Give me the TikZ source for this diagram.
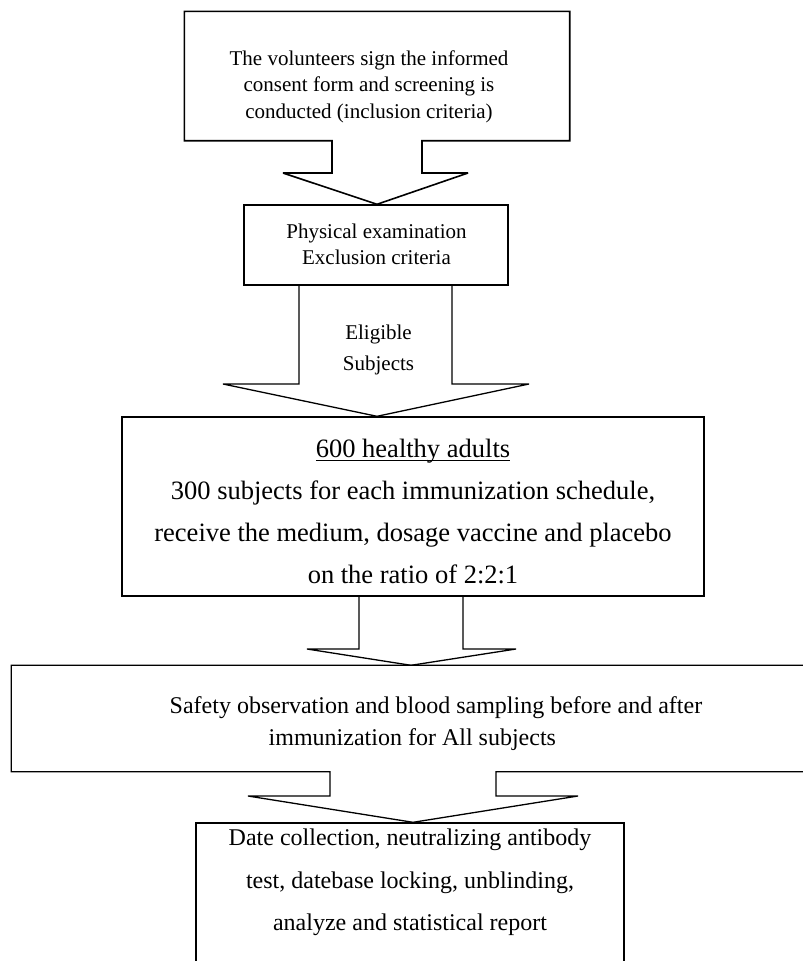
\documentclass[tikz,border=0pt]{standalone}
\usepackage{fontspec}
\setmainfont{Liberation Serif}
\usetikzlibrary{calc}
\newcommand\myul[1]{\leavevmode\setbox0\hbox{#1}\rlap{\rule[-3.2pt]{\wd0}{1.2pt}}\box0}
\begin{document}
\begin{tikzpicture}[x=1pt,y=-1pt,line width=1.4pt,line join=miter,miter limit=2,
  boxshape/.style={rectangle,inner sep=0pt,minimum width=#1},
  drawnbox/.style={boxshape=#1,draw},
  txt/.style={inner sep=0pt,align=center},
  blk/.style={draw,line width=1.3pt}]
\useasboundingbox (0,0) rectangle (803,961);
\clip (0,0) rectangle (803,961);

% boxes
\node[boxshape=384pt,minimum height=128pt] (b1) at (377,76) {};
\node[drawnbox=264pt,minimum height=80pt] (b2) at (376,245) {};
\node[drawnbox=582pt,minimum height=179pt] (b3) at (413,506.5) {};
\node[boxshape=796pt,minimum height=105pt] (b4) at (410,718.5) {};
\node[drawnbox=428pt,minimum height=152pt] (b5) at (410,899) {};

% texts
\node[txt,font=\fontsize{21}{26.5}\selectfont] (t1) at (369,86.5)
  {The volunteers sign the informed\\consent form and screening is\\conducted (inclusion criteria)};
\node[txt,font=\fontsize{21}{26.5}\selectfont] (t2) at (376.5,244.5)
  {Physical examination\\Exclusion criteria};
\node[txt,font=\fontsize{21}{31}\selectfont] (el) at (378.5,349.5)
  {Eligible\\Subjects};
\node[txt,font=\fontsize{26.5}{41.7}\selectfont] (t3) at (413,511.5)
  {\myul{600 healthy adults}\\300 subjects for each immunization schedule,\\receive the medium, dosage vaccine and placebo\\on the ratio of 2:2:1};
\node[txt,align=left,anchor=west,font=\fontsize{24}{32}\selectfont] (t4) at (169,723.8)
  {Safety observation and blood sampling before and after\\\hspace*{99pt}immunization for All subjects};
\node[txt,font=\fontsize{24}{42.5}\selectfont] (t5) at (410,882.5)
  {Date collection, neutralizing antibody\\test, datebase locking, unblinding,\\analyze and statistical report};

% box 1 with block arrow 1
\draw[blk,line width=1.6pt] (422,0 |- b1.south) -- (b1.south east) -- (b1.north east) -- (b1.north west)
  -- (b1.south west) -- (332,0 |- b1.south) -- (332,173) -- (283,173) -- (377,0 |- b2.north)
  -- (468,173) -- (422,173) -- cycle;

% block arrow 2
\draw[blk] (299,0 |- b2.south) -- (299,384) -- (223,384) -- (377,0 |- b3.north)
  -- (529,384) -- (452,384) -- (452,0 |- b2.south);

% block arrow 3
\draw[blk] (359,0 |- b3.south) -- (359,649) -- (307,649) -- (411,0 |- b4.north)
  -- (516,649) -- (463,649) -- (463,0 |- b3.south);

% box 4 with block arrow 4
\draw[blk] (496,0 |- b4.south) -- (b4.south east) -- (b4.north east) -- (b4.north west)
  -- (b4.south west) -- (330,0 |- b4.south) -- (330,796) -- (248,796) -- (413,0 |- b5.north)
  -- (578,796) -- (496,796) -- cycle;
\end{tikzpicture}
\end{document}
